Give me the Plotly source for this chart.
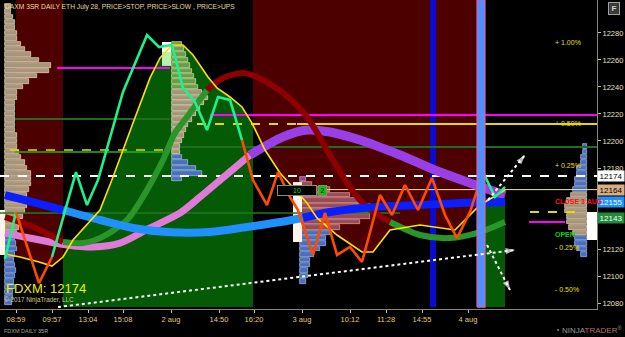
import numpy as np
import plotly.graph_objects as go

# ---------------- frame / axis data ----------------
Y_MIN, Y_MAX = 12075.6, 12304.4
X_MIN, X_MAX = 0.0, 59.7
FILL_BOTTOM = 12077.0

x_tickvals = [1.6, 5.2, 8.8, 12.3, 17.1, 21.9, 25.4, 30.2, 35.0, 38.6, 42.2, 46.8]
x_ticktext = ["08:59", "09:57", "13:04", "15:08", "2 aug", "14:50", "16:20",
              "3 aug", "10:12", "11:28", "14:55", "4 aug"]
y_tickvals = [12080, 12100, 12120, 12180, 12200, 12220, 12240, 12260, 12280]

# ---------------- series ----------------
# price zigzag (PRICE)
price_x = [0.5, 1.6, 3.9, 5.2, 7.6, 8.7, 9.8, 12.3, 14.7, 15.9, 17.2, 18.3, 19.5, 20.7, 21.8, 23.0,
           24.2, 25.3, 26.7, 27.8, 29.0, 29.8, 31.3, 32.5, 33.7, 35.0, 36.2, 38.0, 39.2, 40.5,
           41.8, 43.2, 44.5, 45.7, 47.0, 48.3, 49.5, 50.5]
price_y = [12112.6, 12147.4, 12094.8, 12114.1, 12177.0, 12152.6, 12171.1, 12236.3, 12278.5,
           12269.6, 12271.1, 12239.3, 12228.9, 12208.1, 12232.6, 12230.4, 12200.7, 12171.1,
           12152.6, 12177.0, 12158.5, 12148.9, 12115.6, 12146.7, 12115.6, 12121.5, 12110.4,
           12160.0, 12145.2, 12167.4, 12148.9, 12172.6, 12145.2, 12128.1, 12147.4, 12177.0,
           12158.5, 12166.0]
price_segments = [(0, 1, "#1ef08c"), (1, 3, "#ff4a00"), (3, 16, "#1ef08c"),
                  (16, 35, "#ff4a00"), (35, 37, "#1ef08c")]

# slow line (yellow)
slow_x = [0.5, 2.0, 3.9, 5.2, 6.3, 7.3, 10.0, 11.3, 13.3, 15.0, 16.0, 17.2, 18.3, 19.3, 20.8,
          21.7, 23.0, 24.2, 25.2, 26.5, 28.0, 29.5, 30.7, 31.7, 33.7, 36.2, 37.3, 39.0, 42.0,
          45.5, 48.0, 50.5]
slow_y = [12116.3, 12114.1, 12110.4, 12107.4, 12114.1, 12126.7, 12148.9, 12173.3, 12213.3,
          12246.7, 12261.5, 12271.1, 12271.1, 12263.7, 12247.4, 12239.3, 12232.6, 12225.2,
          12213.3, 12193.3, 12176.3, 12163.7, 12154.1, 12143.0, 12130.4, 12117.8, 12117.8,
          12134.1, 12137.8, 12134.1, 12152.6, 12163.7]

# regime spans
red_spans = [(1.6, 6.3), (25.3, 47.7)]
green_spans = [(6.3, 25.3), (48.5, 50.5)]

# stop band
stop_x = [0.5, 2.0, 4.0, 6.3, 8.3, 10.0, 12.7, 14.7, 16.3, 17.5, 18.7, 20.7, 22.3, 24.3, 25.7,
          28.3, 30.7, 32.7, 34.2, 36.0, 37.5, 39.0, 42.0, 45.0, 48.0, 50.5]
stop_y = [12143.7, 12140.0, 12134.1, 12125.2, 12124.4, 12128.1, 12141.5, 12163.7, 12185.9,
          12205.9, 12217.8, 12237.8, 12246.7, 12250.4, 12247.4, 12235.6, 12217.8, 12193.3,
          12174.8, 12156.3, 12146.7, 12140.0, 12130.4, 12128.1, 12132.6, 12140.0]
stop_segments = [(0, 3, "#8e0000"), (3, 11, "#2a962a"), (11, 21, "#8e0000"), (21, 25, "#2a962a")]

# ups band
ups_x = [0.5, 2.0, 4.0, 6.7, 9.3, 12.0, 15.0, 18.0, 20.0, 22.5, 25.0, 28.3, 30.7, 33.0, 36.0,
         40.0, 44.0, 47.0, 50.5]
ups_y = [12131.9, 12129.6, 12126.7, 12123.0, 12121.5, 12124.4, 12135.6, 12146.7, 12158.5,
         12174.1, 12189.6, 12203.0, 12208.1, 12206.7, 12200.7, 12189.6, 12177.0, 12168.9, 12160.0]
ups_segments = [(0, 10, "#e07ad8", 7), (10, 18, "#9a3ee8", 9)]

# fast band (blue)
fast_x = [0.5, 3.3, 6.3, 10.0, 13.3, 16.7, 21.0, 24.7, 28.0, 30.3, 33.0, 36.3, 39.0, 42.0, 46.0, 50.5]
fast_y = [12160.0, 12154.8, 12148.9, 12141.5, 12135.6, 12132.6, 12132.6, 12136.3, 12140.0,
          12143.0, 12147.4, 12150.4, 12151.9, 12152.6, 12154.1, 12154.8]
fast_segments = [(0, 2, "#0a1eff"), (2, 9, "#1e90ff"), (9, 15, "#0a1eff")]

# horizontal levels
level_price = [12254.1, 12219.3, 12212.6, 12212.6, 12195.6, 12216.3, 12193.3, 12191.9,
               12146.7, 12174.0, 12164.0, 12147.4, 12140.0]
level_x0 = [5.7, 21.0, 19.7, 29.7, 18.0, 1.5, 1.0, 1.5, 0.0, 0.0, 32.5, 53.0, 52.9]
level_x1 = [17.0, 59.7, 29.7, 59.7, 59.7, 17.0, 17.0, 17.0, 40.0, 59.7, 59.7, 57.7, 56.5]
level_style = [("#ff00ff", 2, "solid"), ("#ff00ff", 2, "solid"), ("#e6d800", 2, "dash"),
               ("#e6d800", 2, "solid"), ("#1f6e1f", 2, "solid"), ("#1f6e1f", 2, "solid"),
               ("#e6d800", 1.5, "dash"), ("#22b022", 1.5, "solid"), ("#1f7a1f", 1.5, "solid"),
               ("#ffffff", 2, "dash"), ("#f0e6a0", 1, "solid"), ("#e6d800", 2, "dash"),
               ("#ff00ff", 2, "solid")]

# vertical session markers
vbar_x0 = [43.0, 47.7]
vbar_x1 = [43.6, 48.5]

# range boxes (x0, x1, y0, y1)
box_x0 = [16.2, 16.2, 29.3, 58.7, 0.0]
box_x1 = [17.1, 17.1, 30.2, 59.7, 0.5]
box_y0 = [12265.9, 12255.6, 12125.2, 12126.7, 12115.6]
box_y1 = [12273.3, 12265.9, 12169.6, 12147.4, 12148.9]
box_col = ["#ffffff", "#b8f0b0", "#fff4e8", "#ffffff", "#fff4e8"]

# dotted projection lines
proj_x = [[5.8, 51.5], [48.8, 52.5], [48.7, 51.0]]
proj_y = [[12077.0, 12119.3], [12156.3, 12189.6], [12123.0, 12089.6]]

# volume profiles: (prices, widths, colour codes)
profA_base = 0.5
profA_p = list(range(12300, 12079, -4))
profA_w = [0.6, 0.6, 0.8, 1.0, 1.0, 1.2, 1.2, 1.6, 2.0, 2.6, 3.4, 4.6, 4.4, 3.2, 2.4, 1.8, 1.2,
           1.2, 1.0, 1.0, 1.0, 1.0, 1.0, 1.0, 1.2, 1.2, 1.2, 1.4, 1.6, 2.0, 2.2, 2.6, 2.6, 2.6,
           2.4, 2.2, 2.4, 2.2, 2.0, 1.8, 1.6, 1.4, 1.2, 1.0, 1.1, 1.2, 1.0, 0.9, 1.0, 1.1, 1.0,
           0.9, 1.0, 0.8, 0.8, 0.7]
profA_c = ["t"] * 43 + ["b"] * 13

profB_base = 17.2
profB_p = list(range(12272, 12171, -4))
profB_w = [1.0, 1.2, 1.4, 1.6, 1.8, 2.0, 2.2, 2.4, 2.6, 3.0, 3.6, 3.2, 2.8, 2.4, 2.0, 1.6,
           1.4, 1.2, 1.0, 0.8, 0.8, 1.0, 1.6, 2.4, 3.0, 1.0]
profB_c = ["g"] * 9 + ["t"] * 12 + ["b"] * 5

profC_base = 30.0
profC_p = list(range(12172, 12095, -4))
profC_w = [0.6, 1.2, 3.0, 5.0, 6.0, 7.0, 7.5, 7.0, 6.0, 4.0, 3.0, 2.6, 2.6, 2.0, 1.4, 1.0,
           1.0, 0.8, 0.8, 0.6]
profC_c = ["p"] + ["r"] * 9 + ["b"] * 10

profD_right = 58.7
profD_p = list(range(12196, 12115, -4))
profD_w = [0.4, 0.4, 0.6, 0.6, 1.0, 1.0, 1.2, 1.2, 1.4, 1.6, 2.0, 2.2, 2.2, 2.0, 2.0, 1.8,
           1.4, 1.2, 1.2, 1.0, 0.6]
profD_c = ["b"] * 9 + ["t"] * 8 + ["b"] * 4

PROFILE_COLORS = {"t": ("#a89478", "#eadcc0"), "b": ("#4a6fc0", "#a8c0f0"),
                  "g": ("#6f9a4a", "#d0e8a8"), "r": ("#9a4a55", "#e0a8a8"),
                  "p": ("#8a4a9a", "#d0a0e0")}

# right-hand price tags
tag_price = [12174, 12164, 12155, 12143]
tag_bg = ["#ffffff", "#d8ad84", "#1e90ff", "#228b3a"]
tag_fg = ["#000000", "#000000", "#ffffff", "#ffffff"]

# percent labels
pct_text = ["+ 1.00%", "+ 0.50%", "+ 0.25%", "- 0.25%", "- 0.50%"]
pct_price = [12272.6, 12212.6, 12181.5, 12121.5, 12090.4]

FONT = "Liberation Sans, Arial"

# ---------------- figure ----------------
fig = go.Figure()
shapes = []

def span_path(x0, x1, edge):
    xs = [x0] + [x for x in slow_x if x0 < x < x1] + [x1]
    ys = list(np.interp(xs, slow_x, slow_y))
    pts = list(zip(xs, ys)) + [(x1, edge), (x0, edge)]
    return "M " + " L ".join(f"{a:.3f},{b:.3f}" for a, b in pts) + " Z"

for x0, x1 in red_spans:
    shapes.append(dict(type="path", path=span_path(x0, x1, Y_MAX), xref="x", yref="y",
                       fillcolor="#4d0000", line=dict(width=0), layer="below"))
for x0, x1 in green_spans:
    shapes.append(dict(type="path", path=span_path(x0, x1, FILL_BOTTOM), xref="x", yref="y",
                       fillcolor="#055a05", line=dict(width=0), layer="below"))

def poly_trace(xs, ys, color, line_color=None, lw=0):
    return go.Scatter(x=xs, y=ys, fill="toself", fillcolor=color, mode="lines",
                      line=dict(color=line_color or color, width=lw),
                      hoverinfo="skip", showlegend=False)

# volume profiles
def add_profile(prices, widths, codes, base):
    for code in sorted(set(codes)):
        idx = [i for i, c in enumerate(codes) if c == code]
        fc, lc = PROFILE_COLORS[code]
        b = base if np.isscalar(base) else [base[i] for i in idx]
        fig.add_trace(go.Bar(orientation="h", y=[prices[i] for i in idx],
                             x=[widths[i] for i in idx], base=b, width=3.3,
                             marker=dict(color=fc, line=dict(color=lc, width=0.7)),
                             hoverinfo="skip", showlegend=False))

add_profile(profA_p, profA_w, profA_c, profA_base)
add_profile(profB_p, profB_w, profB_c, profB_base)
add_profile(profC_p, profC_w, profC_c, profC_base)
add_profile(profD_p, profD_w, profD_c, [profD_right - w for w in profD_w])

# vertical markers
fig.add_trace(poly_trace([vbar_x0[0], vbar_x1[0], vbar_x1[0], vbar_x0[0], vbar_x0[0]],
                         [FILL_BOTTOM, FILL_BOTTOM, Y_MAX, Y_MAX, FILL_BOTTOM], "#0a0ad0"))

# range boxes
for i in range(len(box_x0)):
    fig.add_trace(poly_trace([box_x0[i], box_x1[i], box_x1[i], box_x0[i], box_x0[i]],
                             [box_y0[i], box_y0[i], box_y1[i], box_y1[i], box_y0[i]], box_col[i]))

# horizontal levels
for p, x0, x1, (c, w, d) in zip(level_price, level_x0, level_x1, level_style):
    fig.add_trace(go.Scatter(x=[x0, x1], y=[p, p], mode="lines",
                             line=dict(color=c, width=w, dash=d),
                             hoverinfo="skip", showlegend=False))

def add_segments(xs, ys, segs, width, shape="spline"):
    for seg in segs:
        a, b, col = seg[0], seg[1], seg[2]
        w = seg[3] if len(seg) > 3 else width
        fig.add_trace(go.Scatter(x=xs[a:b + 1], y=ys[a:b + 1], mode="lines",
                                 line=dict(color=col, width=w, shape=shape, smoothing=0.8),
                                 hoverinfo="skip", showlegend=False))

add_segments(ups_x, ups_y, ups_segments, 8)
add_segments(stop_x, stop_y, stop_segments, 6)
add_segments(fast_x, fast_y, fast_segments, 8)

# slow line
fig.add_trace(go.Scatter(x=slow_x, y=slow_y, mode="lines",
                         line=dict(color="#ffe000", width=1.6),
                         hoverinfo="skip", showlegend=False))
# price zigzag
add_segments(price_x, price_y, price_segments, 2.6, shape="linear")

# light-blue session marker on top
fig.add_trace(poly_trace([vbar_x0[1], vbar_x1[1], vbar_x1[1], vbar_x0[1], vbar_x0[1]],
                         [FILL_BOTTOM, FILL_BOTTOM, Y_MAX, Y_MAX, FILL_BOTTOM], "#4f8fff",
                         line_color="#e060a8", lw=1.2))

# projections with arrowheads
for xs, ys in zip(proj_x, proj_y):
    fig.add_trace(go.Scatter(x=xs, y=ys, mode="lines",
                             line=dict(color="#ffffff", width=2, dash="dot"),
                             hoverinfo="skip", showlegend=False))
    fig.add_trace(go.Scatter(x=xs, y=ys, mode="markers",
                             marker=dict(symbol="arrow", size=[0, 10], angleref="previous",
                                         color="#ffffff", line=dict(width=0)),
                             hoverinfo="skip", showlegend=False))

annotations = []

# right price tags
for p, bg, fg in zip(tag_price, tag_bg, tag_fg):
    annotations.append(dict(x=1.0, xref="paper", y=p, yref="y", xanchor="left",
                            text=str(p), showarrow=False, bgcolor=bg, width=26, height=10,
                            font=dict(size=8, color=fg, family=FONT), borderpad=0))

# percent labels
for t, p in zip(pct_text, pct_price):
    annotations.append(dict(x=55.3, y=p, xref="x", yref="y", xanchor="left", text=t,
                            showarrow=False, font=dict(size=7, color="#e6e000", family=FONT)))
annotations.append(dict(x=55.3, y=12155.0, xref="x", yref="y", xanchor="left",
                        text="<b>CLOSE 3 AUG</b>", showarrow=False,
                        font=dict(size=7, color="#ff1010", family=FONT)))
annotations.append(dict(x=55.3, y=12130.4, xref="x", yref="y", xanchor="left",
                        text="<b>OPEN</b>", showarrow=False,
                        font=dict(size=7, color="#10d010", family=FONT)))

# counter box
annotations.append(dict(x=27.7, y=12163.7, xref="x", yref="y", xanchor="left", text="10",
                        showarrow=False, bgcolor="#000000", bordercolor="#8a8a70",
                        borderwidth=1, width=38, height=9, borderpad=0,
                        font=dict(size=7, color="#20d020", family=FONT)))
annotations.append(dict(x=31.8, y=12163.7, xref="x", yref="y", xanchor="left", text="2",
                        showarrow=False, bgcolor="#10c010", bordercolor="#8a8a70",
                        borderwidth=1, width=7, height=9, borderpad=0,
                        font=dict(size=7, color="#000000", family=FONT)))

# texts
annotations += [
    dict(x=3 / 597, y=1 - 1 / 309, xref="paper", yref="paper", xanchor="left", yanchor="top",
         text="DAXM 3SR DAILY ETH July 28, PRICE>STOP, PRICE>SLOW , PRICE>UPS", showarrow=False,
         font=dict(size=6.7, color="#e8dca0", family=FONT)),
    dict(x=4 / 597, y=1 - 288 / 309, xref="paper", yref="paper", xanchor="left", yanchor="middle",
         text="FDXM: 12174", showarrow=False, font=dict(size=13, color="#f0f000", family=FONT)),
    dict(x=2 / 597, y=1 - 300 / 309, xref="paper", yref="paper", xanchor="left", yanchor="middle",
         text="© 2017 NinjaTrader, LLC", showarrow=False,
         font=dict(size=6.3, color="#d8c890", family=FONT)),
    dict(x=2 / 597, y=1 - 331 / 309, xref="paper", yref="paper", xanchor="left", yanchor="middle",
         text="FDXM DAILY 35R", showarrow=False, font=dict(size=5.5, color="#a0a0a0", family=FONT)),
    dict(x=624 / 597, y=1 - 330 / 309, xref="paper", yref="paper", xanchor="right", yanchor="middle",
         text="◔ NINJA<span style='color:#b07070'>TRADER</span><sup>®</sup>", showarrow=False,
         font=dict(size=8, color="#9a9a9a", family=FONT)),
    dict(x=614 / 597, y=1 - 8 / 309, xref="paper", yref="paper", xanchor="center", yanchor="middle",
         text="<b>F</b>", showarrow=False, bgcolor="#3a3a3a", bordercolor="#a0a0a0",
         borderwidth=1, width=10, height=11, borderpad=0,
         font=dict(size=8, color="#d0d0d0", family=FONT)),
]

fig.update_layout(
    width=625, height=337,
    margin=dict(l=0, r=28, t=0, b=28),
    paper_bgcolor="#000000", plot_bgcolor="#000000",
    barmode="overlay", bargap=0,
    showlegend=False,
    shapes=shapes,
    annotations=annotations,
    xaxis=dict(range=[X_MIN, X_MAX], tickvals=x_tickvals, ticktext=x_ticktext,
               showgrid=False, zeroline=False, showline=True, linecolor="#8c8470",
               linewidth=1, ticks="outside", ticklen=3, tickcolor="#c8c0a0",
               tickfont=dict(size=7.5, color="#e0cc70", family=FONT)),
    yaxis=dict(range=[Y_MIN, Y_MAX], tickvals=y_tickvals, tickformat="d", side="right",
               showgrid=False, zeroline=False, showline=True, linecolor="#8c8470",
               linewidth=1, ticks="outside", ticklen=3, tickcolor="#c8c0a0",
               tickfont=dict(size=7.5, color="#e8e0c0", family=FONT)),
)

fig.write_html("out.html")
